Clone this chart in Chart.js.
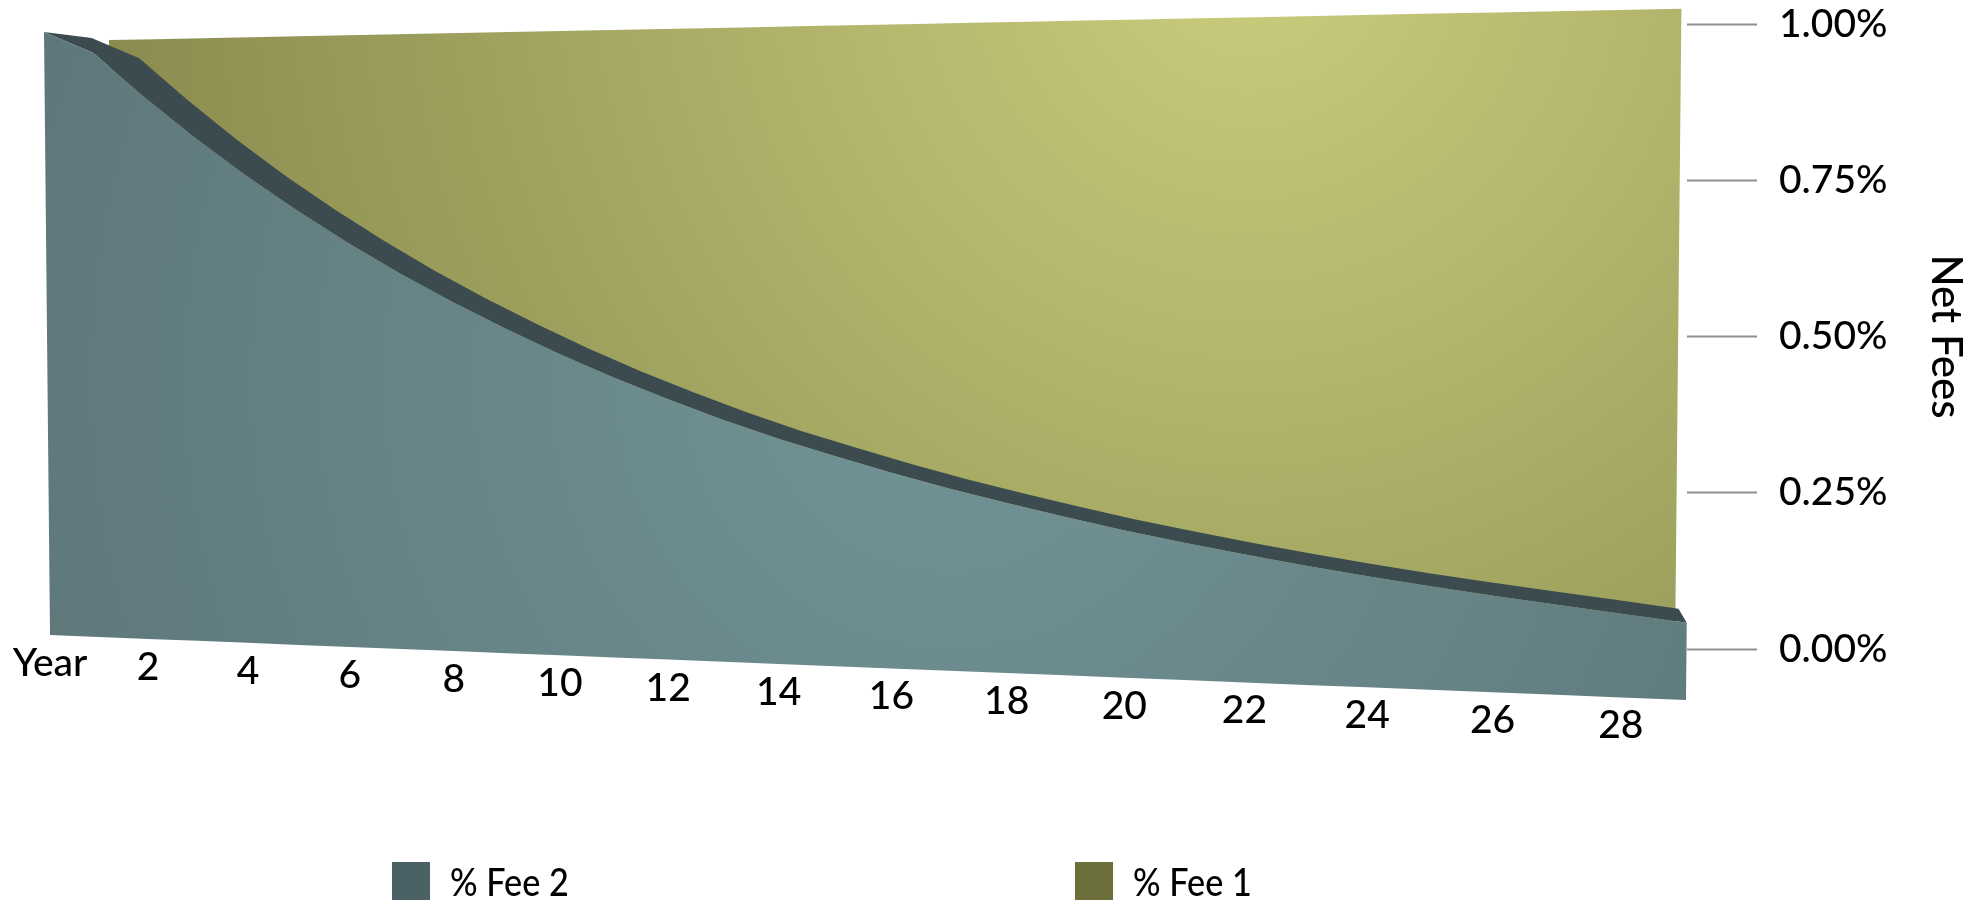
<!DOCTYPE html>
<html>
<head>
<meta charset="utf-8">
<title>Net Fees</title>
<script src="https://cdn.jsdelivr.net/npm/chart.js@4.4.1/dist/chart.umd.min.js"></script>
<style>
  html, body { margin: 0; padding: 0; background: #ffffff; }
  #wrap { position: relative; width: 1971px; height: 902px; overflow: hidden; }
  /* the canvas sits 40px above the page so the value axis can span past its top edge */
  #chart { position: absolute; left: 0; top: -40px; }
  .legend-item { position: absolute; top: 862px; height: 38px; display: flex; align-items: center;
                 font-family: Lato, "Open Sans", sans-serif; font-weight: 500; font-size: 38px; color: #000; white-space: nowrap; }
  .legend-item .swatch { width: 38px; height: 38px; margin-right: 20px; flex: none; }
  .legend-item .text { display: inline-block; transform: scaleX(0.9); transform-origin: left center; }
</style>
</head>
<body>
<div id="wrap">
  <canvas id="chart" width="1971" height="942"></canvas>
  <div id="legend"></div>
</div>
<script>
// ---- data -------------------------------------------------------------
const years = [0, 1, 2, 3, 4, 5, 6, 7, 8, 9, 10, 11, 12, 13, 14, 15, 16, 17, 18, 19,
               20, 21, 22, 23, 24, 25, 26, 27, 28, 29];
const fee1 = [1.00, 1.00, 1.00, 1.00, 1.00, 1.00, 1.00, 1.00, 1.00, 1.00,
              1.00, 1.00, 1.00, 1.00, 1.00, 1.00, 1.00, 1.00, 1.00, 1.00,
              1.00, 1.00, 1.00, 1.00, 1.00, 1.00, 1.00, 1.00, 1.00, 1.00];
const fee2 = [1.000, 0.964, 0.892, 0.825, 0.763, 0.706, 0.653, 0.604, 0.559, 0.517,
              0.478, 0.442, 0.409, 0.378, 0.350, 0.325, 0.301, 0.279, 0.259, 0.240,
              0.222, 0.206, 0.191, 0.177, 0.164, 0.152, 0.141, 0.131, 0.121, 0.111];
const yTicks = [0, 0.25, 0.50, 0.75, 1.00];
const xTitle = 'Year';
const yTitle = 'Net Fees';
const seriesNames = ['% Fee 2', '% Fee 1'];

// ---- look -------------------------------------------------------------
const FONT = 'Lato, "Open Sans", sans-serif';
const SWATCH = ['#4a6266', '#6d6f3b'];
const BAND = '#3b4b4f';
const SHIFT = 40;                     // canvas offset above the page
// front plane of the nearest slab (page px): value 0 / 1 at first and last year
const FRONT = { bl: [50, 635], br: [1686, 700], tl: [44, 32], tr: [1693, -1] };
const VANISH = [1444, 207];           // depth lines converge here
const DEPTH_FEE2_BACK = 0.034;        // thickness of the front slab
const DEPTH_FEE1 = 0.0464;            // front face of the rear slab

const pg = ([x, y]) => [x, y + SHIFT];

// ---- polygons fed to the line controller (filled as shapes) -----------
const face = (vals, z) => years.map((yr, i) => ({ x: yr, y: vals[i], z }))
  .concat(years.slice().reverse().map(yr => ({ x: yr, y: 0, z })));
const band = (vals, zf, zb) => years.map((yr, i) => ({ x: yr, y: vals[i], z: zf }))
  .concat(years.map((yr, i) => ({ x: yr, y: vals[i], z: zb })).reverse());

function tealFill(ctx) {
  const g = ctx.createRadialGradient(950, 380 + SHIFT, 0, 950, 380 + SHIFT, 1100);
  g.addColorStop(0, '#729496');
  g.addColorStop(1, '#5b7377');
  return g;
}
function oliveFill(ctx) {
  const g = ctx.createRadialGradient(1250, -50 + SHIFT, 0, 1250, -50 + SHIFT, 1350);
  g.addColorStop(0, '#cacd7c');
  g.addColorStop(1, '#7e8147');
  return g;
}

// ---- perspective -------------------------------------------------------
function homography(src, dst) {
  const A = [], b = [];
  for (let i = 0; i < 4; i++) {
    const [x, y] = src[i], [X, Y] = dst[i];
    A.push([x, y, 1, 0, 0, 0, -x * X, -y * X]); b.push(X);
    A.push([0, 0, 0, x, y, 1, -x * Y, -y * Y]); b.push(Y);
  }
  const n = 8;
  for (let c = 0; c < n; c++) {
    let p = c;
    for (let r = c + 1; r < n; r++) if (Math.abs(A[r][c]) > Math.abs(A[p][c])) p = r;
    [A[c], A[p]] = [A[p], A[c]]; [b[c], b[p]] = [b[p], b[c]];
    for (let r = 0; r < n; r++) {
      if (r === c) continue;
      const f = A[r][c] / A[c][c];
      for (let k = c; k < n; k++) A[r][k] -= f * A[c][k];
      b[r] -= f * b[c];
    }
  }
  const h = b.map((v, i) => v / A[i][i]);
  return (x, y) => {
    const w = h[6] * x + h[7] * y + 1;
    return [(h[0] * x + h[1] * y + h[2]) / w, (h[3] * x + h[4] * y + h[5]) / w];
  };
}

function makeProjector(chart) {
  const xs = chart.scales.x, ys = chart.scales.y;
  const x0 = xs.getPixelForValue(years[0]), x1 = xs.getPixelForValue(years[years.length - 1]);
  const y0 = ys.getPixelForValue(0), y1 = ys.getPixelForValue(1);
  const H = homography([[x0, y0], [x1, y0], [x0, y1], [x1, y1]],
                       [pg(FRONT.bl), pg(FRONT.br), pg(FRONT.tl), pg(FRONT.tr)]);
  const [vx, vy] = pg(VANISH);
  return (px, py, z) => {
    const [x, y] = H(px, py);
    return [x + z * (vx - x), y + z * (vy - y)];
  };
}

const perspective = {
  id: 'perspective',
  afterDatasetsUpdate(chart) {
    const proj = makeProjector(chart);
    chart.data.datasets.forEach((ds, di) => {
      chart.getDatasetMeta(di).data.forEach((pt, i) => {
        const [x, y] = proj(pt.x, pt.y, ds.data[i].z || 0);
        pt.x = x; pt.y = y;
      });
    });
  },
  afterDraw(chart) {
    // category labels run along the receding floor edge
    const proj = makeProjector(chart);
    const xs = chart.scales.x, ys = chart.scales.y, ctx = chart.ctx;
    ctx.save();
    ctx.font = '500 39px ' + FONT;
    ctx.fillStyle = '#000';
    ctx.textAlign = 'center';
    ctx.textBaseline = 'alphabetic';
    years.forEach(yr => {
      if (yr % 2 !== 0) return;
      const [x, y] = proj(xs.getPixelForValue(yr), ys.getPixelForValue(0), 0);
      ctx.fillText(yr === 0 ? xTitle : String(yr), x, y + 41);
    });
    ctx.restore();
  }
};

const noPad = s => { s.paddingTop = s.paddingBottom = s.paddingLeft = s.paddingRight = -10000; };

const chart = new Chart(document.getElementById('chart'), {
  type: 'line',
  data: {
    datasets: [
      { label: seriesNames[0], data: face(fee2, 0), fill: 'shape',
        backgroundColor: c => tealFill(c.chart.ctx), legendColor: SWATCH[0] },
      { label: 'top', data: band(fee2, 0, DEPTH_FEE2_BACK), fill: 'shape', backgroundColor: BAND },
      { label: seriesNames[1], data: face(fee1, DEPTH_FEE1), fill: 'shape',
        backgroundColor: c => oliveFill(c.chart.ctx), legendColor: SWATCH[1] }
    ]
  },
  options: {
    responsive: false,
    animation: false,
    devicePixelRatio: 1,
    events: [],
    layout: { padding: { top: 1.5, bottom: 190.5, left: 0, right: 0 } },
    elements: {
      point: { radius: 0, hoverRadius: 0 },
      line: { borderWidth: 0, tension: 0 }
    },
    plugins: { legend: { display: false }, tooltip: { enabled: false } },
    scales: {
      x: {
        type: 'linear', min: years[0], max: years[years.length - 1], display: false,
        afterFit: s => { noPad(s); s.height = 0; }
      },
      y: {
        position: 'right', min: -0.1, max: 1.1,
        afterBuildTicks: s => { s.ticks = yTicks.map(value => ({ value })); },
        afterFit: s => { noPad(s); s.width = 284; },
        border: { display: false },
        grid: { drawOnChartArea: false, drawTicks: true, tickLength: 70, tickColor: '#8f8f8f', tickWidth: 2 },
        ticks: { padding: 22, color: '#000', font: { family: FONT, size: 39, weight: 500 },
                 callback: v => v.toFixed(2) + '%' },
        title: { display: true, text: yTitle, color: '#000', font: { family: FONT, size: 42, weight: 500 },
                 padding: { top: 0, bottom: 0 } }
      }
    }
  },
  plugins: [perspective]
});

// legend built from the series datasets
const legendPos = [392, 1075];
const legend = document.getElementById('legend');
chart.data.datasets.filter(ds => ds.legendColor).forEach((ds, i) => {
  const item = document.createElement('div');
  item.className = 'legend-item';
  item.style.left = legendPos[i] + 'px';
  const sw = document.createElement('span');
  sw.className = 'swatch';
  sw.style.background = ds.legendColor;
  const tx = document.createElement('span');
  tx.className = 'text';
  tx.textContent = ds.label;
  item.appendChild(sw); item.appendChild(tx);
  legend.appendChild(item);
});
</script>
</body>
</html>
